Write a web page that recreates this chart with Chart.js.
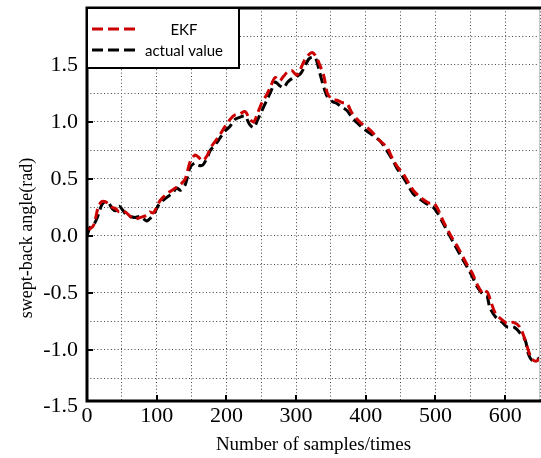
<!DOCTYPE html>
<html>
<head>
<meta charset="utf-8">
<script src="https://cdn.jsdelivr.net/npm/chart.js@4/dist/chart.umd.min.js"></script>
<style>
  html, body { margin: 0; padding: 0; background: #ffffff; }
  #wrap { width: 541px; height: 458px; }
</style>
</head>
<body>
<div id="wrap"><canvas id="c" width="541" height="458"></canvas></div>
<script>
// ---- data ----
const samples = [0, 4, 10, 16, 21, 26, 31, 36, 41, 46, 52, 57, 62, 69, 76, 86, 90, 95, 100, 105,
  115, 122, 129, 134, 141, 148, 155, 160, 166, 172, 177, 184, 191, 198, 205, 212, 219, 227, 233, 239,
  245, 251, 258, 264, 270, 276, 282, 288, 294, 301, 306, 312, 318, 323, 328, 334, 340, 345, 352, 359,
  366, 373, 380, 388, 395, 406, 415, 421, 430, 439, 446, 453, 459, 468, 478, 490, 497, 503, 511, 524,
  533, 545, 553, 560, 569, 574, 578, 586, 596, 603, 612, 621, 629, 633, 638, 644, 650];
const actualValue = [0.00, 0.07, 0.10, 0.18, 0.27, 0.30, 0.29, 0.24, 0.22, 0.26, 0.22, 0.18, 0.17, 0.16, 0.17, 0.13, 0.15, 0.18, 0.24, 0.29,
  0.34, 0.37, 0.42, 0.40, 0.45, 0.60, 0.64, 0.62, 0.62, 0.68, 0.75, 0.80, 0.86, 0.92, 0.96, 1.02, 1.04, 1.05, 0.98, 0.95,
  1.02, 1.10, 1.19, 1.27, 1.35, 1.32, 1.30, 1.35, 1.38, 1.40, 1.42, 1.48, 1.55, 1.57, 1.56, 1.43, 1.30, 1.22, 1.18, 1.16,
  1.13, 1.10, 1.04, 0.99, 0.95, 0.90, 0.86, 0.83, 0.75, 0.66, 0.58, 0.52, 0.46, 0.37, 0.32, 0.27, 0.25, 0.20, 0.11, -0.04,
  -0.14, -0.27, -0.36, -0.45, -0.52, -0.53, -0.63, -0.71, -0.76, -0.80, -0.80, -0.85, -0.92, -1.03, -1.09, -1.09, -1.07];
const ekfValue = [0.07, 0.06, 0.10, 0.25, 0.30, 0.30, 0.28, 0.25, 0.24, 0.21, 0.22, 0.20, 0.17, 0.15, 0.16, 0.18, 0.21, 0.20, 0.25, 0.31,
  0.37, 0.40, 0.43, 0.45, 0.50, 0.65, 0.71, 0.69, 0.66, 0.70, 0.77, 0.83, 0.89, 0.96, 1.02, 1.06, 1.07, 1.09, 1.03, 1.00,
  1.08, 1.17, 1.24, 1.32, 1.39, 1.36, 1.40, 1.44, 1.45, 1.41, 1.46, 1.54, 1.59, 1.61, 1.58, 1.50, 1.40, 1.25, 1.20, 1.19,
  1.17, 1.16, 1.08, 1.02, 0.98, 0.93, 0.87, 0.83, 0.78, 0.67, 0.60, 0.55, 0.49, 0.40, 0.34, 0.29, 0.29, 0.24, 0.13, -0.02,
  -0.11, -0.25, -0.33, -0.43, -0.51, -0.49, -0.55, -0.68, -0.74, -0.77, -0.76, -0.80, -0.92, -1.00, -1.08, -1.10, -1.08];
const seriesNames = ['EKF', 'actual value'];
const xTicks = [0, 50, 100, 150, 200, 250, 300, 350, 400, 450, 500, 550, 600, 650];
const xTickLabels = ['0', '', '100', '', '200', '', '300', '', '400', '', '500', '', '600', ''];
const yTicks = [-1.5, -1.25, -1.0, -0.75, -0.5, -0.25, 0.0, 0.25, 0.5, 0.75, 1.0, 1.25, 1.5, 1.75];
const yTickLabels = ['-1.5', '', '-1.0', '', '-0.5', '', '0.0', '', '0.5', '', '1.0', '', '1.5', ''];
const xTitle = 'Number of samples/times';
const yTitle = 'swept-back angle(rad)';

// ---- styling ----
const RED = '#cc0000';
const BLACK = '#000000';
const SERIF = '"Liberation Serif", "Times New Roman", serif';
const GRID = '#444444';

const decorations = {
  id: 'decorations',
  afterDatasetsDraw(chart) {
    const ctx = chart.ctx;
    const a = chart.chartArea;
    const xs = chart.scales.x, ys = chart.scales.y;
    ctx.save();
    // inward major tick marks
    ctx.strokeStyle = BLACK;
    ctx.lineWidth = 2;
    ctx.setLineDash([]);
    yTicks.forEach((v, i) => {
      if (!yTickLabels[i] || v < ys.min || v > ys.max) return;
      const py = Math.round(ys.getPixelForValue(v));
      ctx.beginPath(); ctx.moveTo(a.left, py); ctx.lineTo(a.left + 6, py); ctx.stroke();
    });
    xTicks.forEach((v, i) => {
      if (!xTickLabels[i] || v === 0) return;
      const px = Math.round(xs.getPixelForValue(v));
      ctx.beginPath(); ctx.moveTo(px, a.bottom); ctx.lineTo(px, a.bottom - 6); ctx.stroke();
    });
    // frame
    ctx.strokeStyle = '#c8c8c8';
    ctx.lineWidth = 1;
    ctx.beginPath(); ctx.moveTo(a.right - 0.5, a.top); ctx.lineTo(a.right - 0.5, a.bottom); ctx.stroke();
    ctx.strokeStyle = BLACK;
    ctx.lineWidth = 3;
    ctx.beginPath();
    ctx.moveTo(a.left, a.top); ctx.lineTo(a.left, a.bottom);
    ctx.moveTo(a.left - 1.5, a.bottom); ctx.lineTo(a.right + 1, a.bottom);
    ctx.moveTo(a.left - 1.5, a.top); ctx.lineTo(a.right + 1, a.top);
    ctx.stroke();

    // legend box
    const lx = a.left, ly = a.top, lw = 152, lh = 60;
    ctx.fillStyle = '#ffffff';
    ctx.fillRect(lx, ly, lw, lh);
    ctx.lineWidth = 2;
    ctx.strokeRect(lx, ly, lw, lh);
    const colors = [RED, BLACK];
    const rowsY = [ly + 21, ly + 42];
    ctx.font = '15px Lato, "Liberation Sans", sans-serif';
    ctx.textAlign = 'center';
    ctx.textBaseline = 'middle';
    seriesNames.forEach((name, i) => {
      ctx.strokeStyle = colors[i];
      ctx.lineWidth = 3;
      ctx.setLineDash([11, 5]);
      ctx.beginPath(); ctx.moveTo(lx + 5, rowsY[i]); ctx.lineTo(lx + 49, rowsY[i]); ctx.stroke();
      ctx.setLineDash([]);
      ctx.fillStyle = BLACK;
      ctx.fillText(name, lx + 97, rowsY[i] + 1);
    });

    // y axis title
    ctx.translate(27, 238);
    ctx.rotate(-Math.PI / 2);
    ctx.font = '18px ' + SERIF;
    ctx.fillStyle = BLACK;
    ctx.textAlign = 'center';
    ctx.textBaseline = 'middle';
    ctx.fillText(yTitle, 0, 0);
    ctx.restore();
  }
};

const lineStyle = {
  borderWidth: 3,
  borderDash: [10, 5],
  pointRadius: 0,
  tension: 0.3,
  fill: false
};

new Chart(document.getElementById('c'), {
  type: 'line',
  data: {
    datasets: [
      Object.assign({
        label: seriesNames[1],
        data: samples.map((x, i) => ({ x, y: actualValue[i] })),
        borderColor: BLACK,
        order: 2
      }, lineStyle),
      Object.assign({
        label: seriesNames[0],
        data: samples.map((x, i) => ({ x, y: ekfValue[i] })),
        borderColor: RED,
        order: 1
      }, lineStyle)
    ]
  },
  options: {
    responsive: false,
    devicePixelRatio: 1,
    animation: false,
    events: [],
    layout: { padding: { top: 8, right: 1, left: 0, bottom: 0 } },
    plugins: { legend: { display: false }, tooltip: { enabled: false }, title: { display: false } },
    scales: {
      x: {
        type: 'linear',
        min: 0,
        max: 650,
        afterFit: s => { s.height = 57; s.paddingLeft = 0; s.paddingRight = 0; },
        afterBuildTicks: s => { s.ticks = xTicks.map(v => ({ value: v })); },
        ticks: {
          autoSkip: false,
          maxRotation: 0,
          padding: 2,
          color: BLACK,
          font: { family: SERIF, size: 22 },
          callback: (v) => { const i = xTicks.indexOf(v); return i >= 0 ? xTickLabels[i] : ''; }
        },
        grid: {
          color: GRID,
          lineWidth: 1,
          drawTicks: false
        },
        border: { display: false, dash: [1, 2.4] },
        title: {
          display: true,
          text: xTitle,
          color: BLACK,
          font: { family: SERIF, size: 19 },
          padding: { top: 0, bottom: 2 }
        }
      },
      y: {
        type: 'linear',
        min: -1.45,
        max: 2.0,
        afterFit: s => { s.width = 87; s.paddingTop = 0; s.paddingBottom = 0; },
        afterBuildTicks: s => { s.ticks = yTicks.map(v => ({ value: v })); },
        ticks: {
          autoSkip: false,
          padding: 9,
          color: BLACK,
          font: { family: SERIF, size: 22 },
          callback: (v) => { const i = yTicks.findIndex(t => Math.abs(t - v) < 1e-9); return i >= 0 ? yTickLabels[i] : ''; }
        },
        grid: {
          color: c => (c.tick && c.tick.value < -1.45) ? 'rgba(0,0,0,0)' : GRID,
          lineWidth: 1,
          drawTicks: false
        },
        border: { display: false, dash: [1, 2.4] }
      }
    }
  },
  plugins: [decorations]
});
</script>
</body>
</html>
